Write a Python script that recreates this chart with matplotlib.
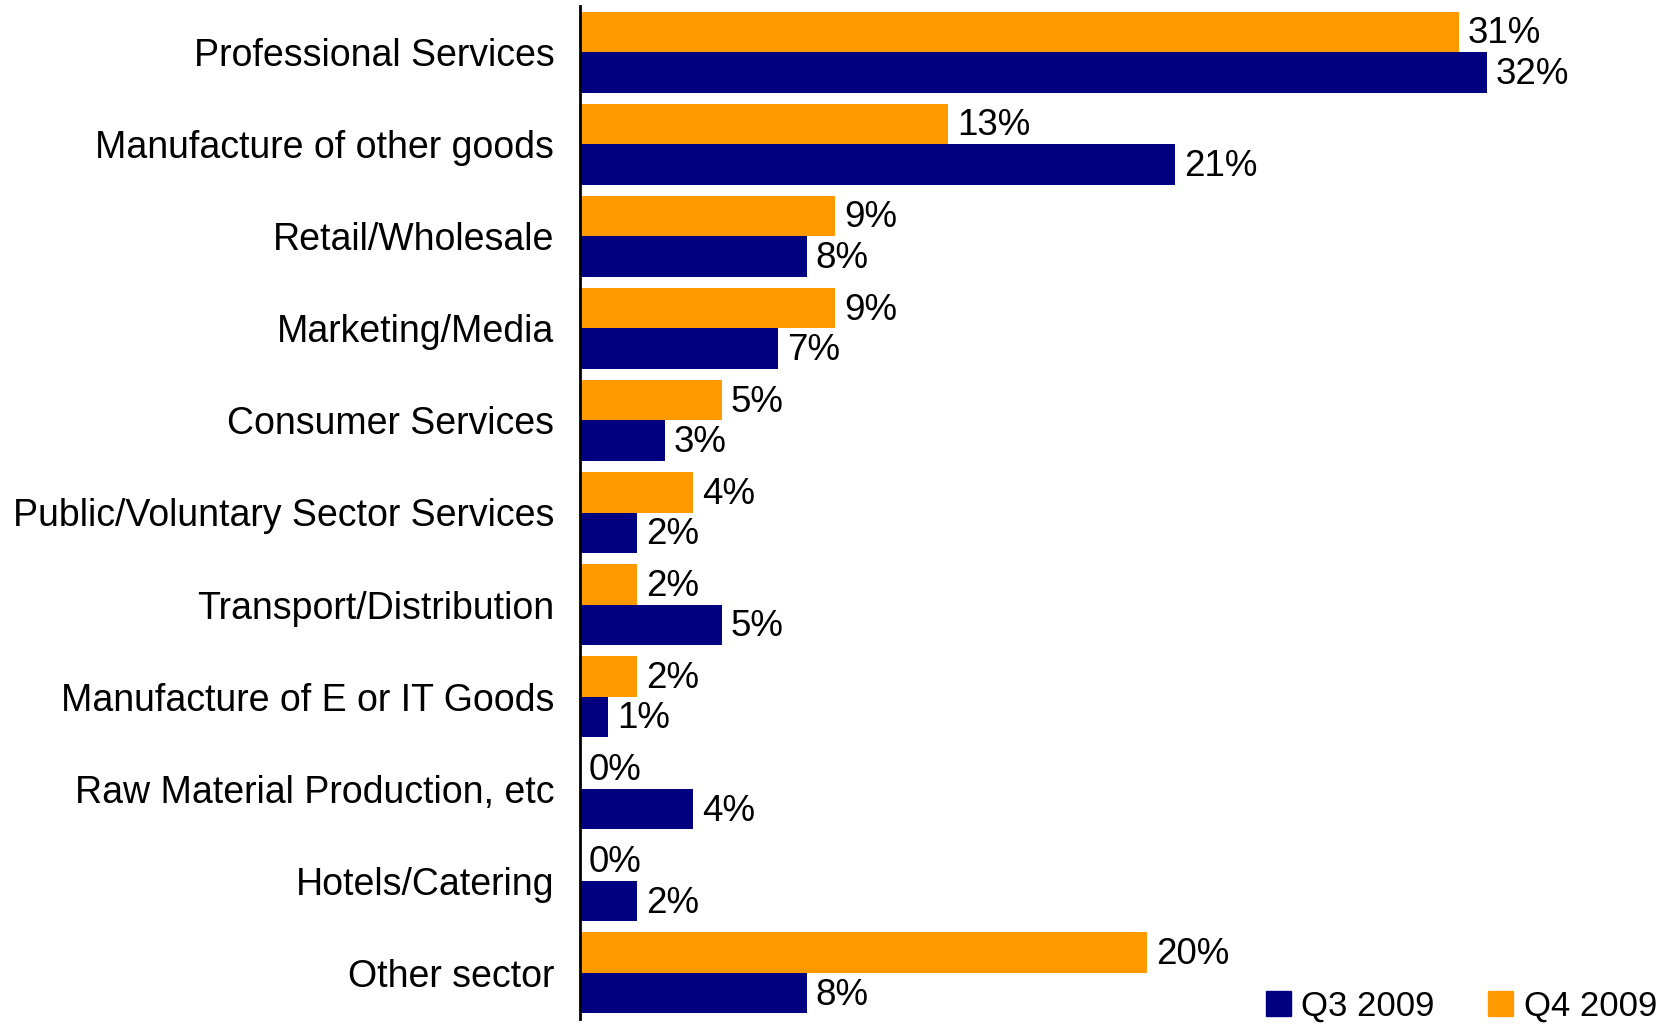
import matplotlib
matplotlib.use("Agg")
import matplotlib.pyplot as plt
import numpy as np
from matplotlib.patches import Patch

categories = ["Professional Services", "Manufacture of other goods", "Retail/Wholesale",
              "Marketing/Media", "Consumer Services", "Public/Voluntary Sector Services",
              "Transport/Distribution", "Manufacture of E or IT Goods",
              "Raw Material Production, etc", "Hotels/Catering", "Other sector"]
q3_2009 = [32, 21, 8, 7, 3, 2, 5, 1, 4, 2, 8]
q4_2009 = [31, 13, 9, 9, 5, 4, 2, 2, 0, 0, 20]
series_names = ["Q3 2009", "Q4 2009"]

navy = "#000080"
orange = "#FF9900"

plt.rcParams['font.family'] = ['Liberation Sans', 'DejaVu Sans']

fig = plt.figure(figsize=(16.74, 10.24), dpi=100)
ax = fig.add_axes([580/1674, 1 - 1019/1024, 1 - 580/1674, (1019 - 6)/1024])

y = np.arange(len(categories))
h = 0.44
ax.barh(y - h/2, q4_2009, height=h, color=orange, label=series_names[1])
ax.barh(y + h/2, q3_2009, height=h, color=navy, label=series_names[0])

for yi, v in zip(y - h/2, q4_2009):
    ax.annotate(f"{v}%", (v, yi), xytext=(9, -2), textcoords="offset pixels",
                va="center", ha="left", fontsize=26.5)
for yi, v in zip(y + h/2, q3_2009):
    ax.annotate(f"{v}%", (v, yi), xytext=(9, -2), textcoords="offset pixels",
                va="center", ha="left", fontsize=26.5)

ax.set_ylim(len(categories) - 0.5, -0.5)
ax.set_xlim(0, (1674 - 580) / 28.34)
ax.set_yticks(y)
ax.set_yticklabels(categories, fontsize=27)
ax.tick_params(axis='y', length=0, pad=18.5)
ax.set_xticks([])
for s in ["top", "right", "bottom"]:
    ax.spines[s].set_visible(False)
ax.spines["left"].set_linewidth(2)
ax.spines["left"].set_color("black")

handles = [Patch(color=navy), Patch(color=orange)]
fig.legend(handles, series_names, loc="lower right", bbox_to_anchor=(1657/1674, 1/1024),
           ncol=2, frameon=False, fontsize=25, handlelength=0.72, handleheight=0.72,
           handletextpad=0.3, columnspacing=1.55, borderpad=0, borderaxespad=0)

fig.savefig("out.png", dpi=100)
